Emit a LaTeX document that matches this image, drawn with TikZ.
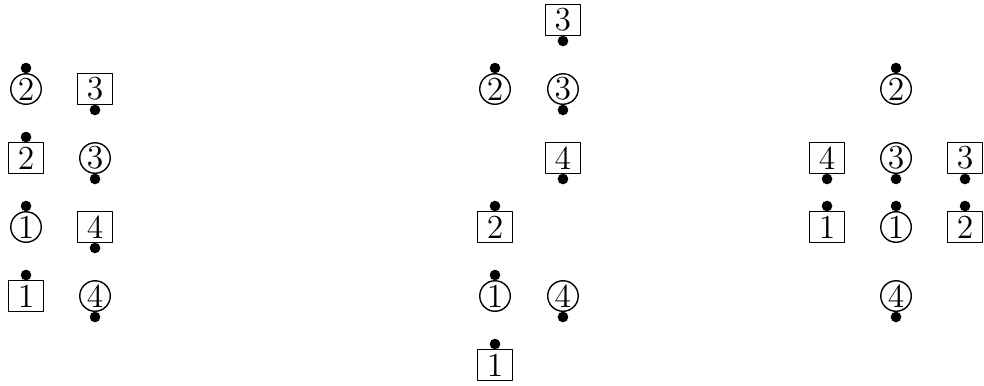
\documentclass[tikz,border=0pt]{standalone}
\usepackage{tikz}
\usetikzlibrary{calc}

\begin{document}
\begin{tikzpicture}[x=24.64pt,y=24.64pt,line join=round,font=\large,
  tile/.style={draw,rectangle,line width=0.5pt,inner sep=0pt,minimum width=12.5pt,minimum height=11.1pt},
  ring/.style={draw,circle,line width=0.5pt,inner sep=0pt,minimum size=10.9pt}]
  \useasboundingbox (0,0) rectangle (14.261,-5.580);
  % left group
  \node[ring] (AO2) at (0.377,-1.290) {2};
  \node[tile] (AS3) at (1.377,-1.290) {3};
  \node[tile] (AS2) at (0.377,-2.290) {2};
  \node[ring] (AO3) at (1.377,-2.290) {3};
  \node[ring] (AO1) at (0.377,-3.290) {1};
  \node[tile] (AS4) at (1.377,-3.290) {4};
  \node[tile] (AS1) at (0.377,-4.290) {1};
  \node[ring] (AO4) at (1.377,-4.290) {4};
  \fill ($(AO2)+(0,0.304)$) circle (1.9pt);
  \fill ($(AS3)-(0,0.304)$) circle (1.9pt);
  \fill ($(AS2)+(0,0.304)$) circle (1.9pt);
  \fill ($(AO3)-(0,0.304)$) circle (1.9pt);
  \fill ($(AO1)+(0,0.304)$) circle (1.9pt);
  \fill ($(AS4)-(0,0.304)$) circle (1.9pt);
  \fill ($(AS1)+(0,0.304)$) circle (1.9pt);
  \fill ($(AO4)-(0,0.304)$) circle (1.9pt);
  % middle group
  \node[tile] (BS3) at (8.159,-0.290) {3};
  \node[ring] (BO2) at (7.174,-1.290) {2};
  \node[ring] (BO3) at (8.159,-1.290) {3};
  \node[tile] (BS4) at (8.159,-2.290) {4};
  \node[tile] (BS2) at (7.174,-3.290) {2};
  \node[ring] (BO1) at (7.174,-4.290) {1};
  \node[ring] (BO4) at (8.159,-4.290) {4};
  \node[tile] (BS1) at (7.174,-5.290) {1};
  \fill ($(BS3)-(0,0.304)$) circle (1.9pt);
  \fill ($(BO2)+(0,0.304)$) circle (1.9pt);
  \fill ($(BO3)-(0,0.304)$) circle (1.9pt);
  \fill ($(BS4)-(0,0.304)$) circle (1.9pt);
  \fill ($(BS2)+(0,0.304)$) circle (1.9pt);
  \fill ($(BO1)+(0,0.304)$) circle (1.9pt);
  \fill ($(BO4)-(0,0.304)$) circle (1.9pt);
  \fill ($(BS1)+(0,0.304)$) circle (1.9pt);
  % right group
  \node[ring] (CO2) at (12.986,-1.290) {2};
  \node[tile] (CS4) at (11.986,-2.290) {4};
  \node[ring] (CO3) at (12.986,-2.290) {3};
  \node[tile] (CS3) at (13.986,-2.290) {3};
  \node[tile] (CS1) at (11.986,-3.290) {1};
  \node[ring] (CO1) at (12.986,-3.290) {1};
  \node[tile] (CS2) at (13.986,-3.290) {2};
  \node[ring] (CO4) at (12.986,-4.290) {4};
  \fill ($(CO2)+(0,0.304)$) circle (1.9pt);
  \fill ($(CS4)-(0,0.304)$) circle (1.9pt);
  \fill ($(CO3)-(0,0.304)$) circle (1.9pt);
  \fill ($(CS3)-(0,0.304)$) circle (1.9pt);
  \fill ($(CS1)+(0,0.304)$) circle (1.9pt);
  \fill ($(CO1)+(0,0.304)$) circle (1.9pt);
  \fill ($(CS2)+(0,0.304)$) circle (1.9pt);
  \fill ($(CO4)-(0,0.304)$) circle (1.9pt);
\end{tikzpicture}
\end{document}
